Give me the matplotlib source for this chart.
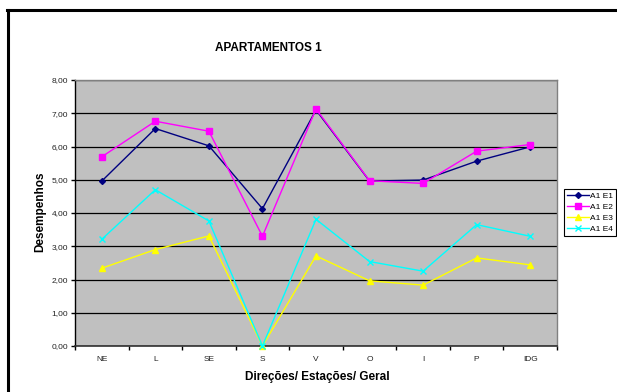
import matplotlib
matplotlib.use("Agg")
import matplotlib.pyplot as plt
from matplotlib.lines import Line2D
import numpy as np

plt.rcParams['font.family'] = ['Liberation Sans', 'DejaVu Sans']

categories = ["NE", "L", "SE", "S", "V", "O", "I", "P", "IDG"]
a1_e1 = [4.96, 6.54, 6.02, 4.13, 7.10, 4.96, 4.99, 5.56, 5.99]
a1_e2 = [5.69, 6.76, 6.46, 3.30, 7.13, 4.97, 4.89, 5.86, 6.06]
a1_e3 = [2.34, 2.90, 3.31, 0.00, 2.71, 1.96, 1.83, 2.65, 2.44]
a1_e4 = [3.21, 4.70, 3.76, 0.00, 3.81, 2.54, 2.25, 3.65, 3.30]
series_names = ["A1 E1", "A1 E2", "A1 E3", "A1 E4"]
yticks = [0, 1, 2, 3, 4, 5, 6, 7, 8]

W, H = 617, 392
fig = plt.figure(figsize=(W / 100, H / 100), dpi=100)

# outer chart frame (left and top edges)
fig.add_artist(Line2D([8 / W, 8 / W], [0, 1 - 10 / H], transform=fig.transFigure,
                      color="black", lw=2.2))
fig.add_artist(Line2D([7 / W, 1], [1 - 10 / H, 1 - 10 / H], transform=fig.transFigure,
                      color="black", lw=2.2))

left, right, top, bottom = 75, 557, 80, 346
ax = fig.add_axes([left / W, 1 - bottom / H, (right - left) / W, (bottom - top) / H])
ax.set_facecolor("#C0C0C0")

x = np.arange(len(categories))
styles = [
    dict(color="#000080", marker="D", ms=3.0),
    dict(color="#FF00FF", marker="s", ms=4.5),
    dict(color="#FFFF00", marker="^", ms=4.0),
    dict(color="#00FFFF", marker="x", ms=4.5, mew=1.0),
]
for vals, name, st in zip([a1_e1, a1_e2, a1_e3, a1_e4], series_names, styles):
    ax.plot(x, vals, lw=1.0, label=name, clip_on=False, zorder=3, **st)

ax.set_xlim(-0.5, len(categories) - 0.5)
ax.set_ylim(0, 8)

ax.set_yticks(yticks)
ax.set_yticklabels([f"{v:.2f}".replace(".", ",") for v in yticks], fontsize=6, color="#222222")
ax.yaxis.grid(True, color="black", lw=0.9)
ax.set_axisbelow(True)

ax.set_xticks(np.arange(-0.5, len(categories), 1.0))
ax.set_xticklabels([])
ax.set_xticks(x, minor=True)
ax.set_xticklabels(categories, minor=True, fontsize=6, color="#222222")
ax.tick_params(axis="x", which="minor", length=0, pad=7)
ax.tick_params(axis="x", which="major", length=3, width=1, direction="out")
ax.tick_params(axis="y", length=3, width=1, direction="out", pad=2)

for s in ["top", "right"]:
    ax.spines[s].set_color("#808080")
    ax.spines[s].set_linewidth(1.0)
ax.spines["left"].set_color("black")
ax.spines["bottom"].set_color("#303030")
ax.spines["left"].set_linewidth(1.0)
ax.spines["bottom"].set_linewidth(1.2)

fig.text(40 / W, 1 - 212 / H, "Desempenhos", fontsize=8.5, fontweight="bold",
         rotation=90, ha="center", va="center")
fig.text(317 / W, 1 - 377 / H, "Direções/ Estações/ Geral", fontsize=8.5,
         fontweight="bold", ha="center", va="center")
fig.text(268 / W, 1 - 48 / H, "APARTAMENTOS 1", fontsize=8.5, fontweight="bold",
         ha="center", va="center")

leg = ax.legend(loc="upper left", bbox_to_anchor=(564 / W, 1 - 189 / H),
                bbox_transform=fig.transFigure, fontsize=6, frameon=True,
                fancybox=False, edgecolor="black", framealpha=1,
                borderpad=0.35, labelspacing=0.4, handlelength=2.6,
                handletextpad=0.2, borderaxespad=0)
leg.get_frame().set_linewidth(0.8)

fig.savefig("out.png", dpi=100, facecolor="white")
